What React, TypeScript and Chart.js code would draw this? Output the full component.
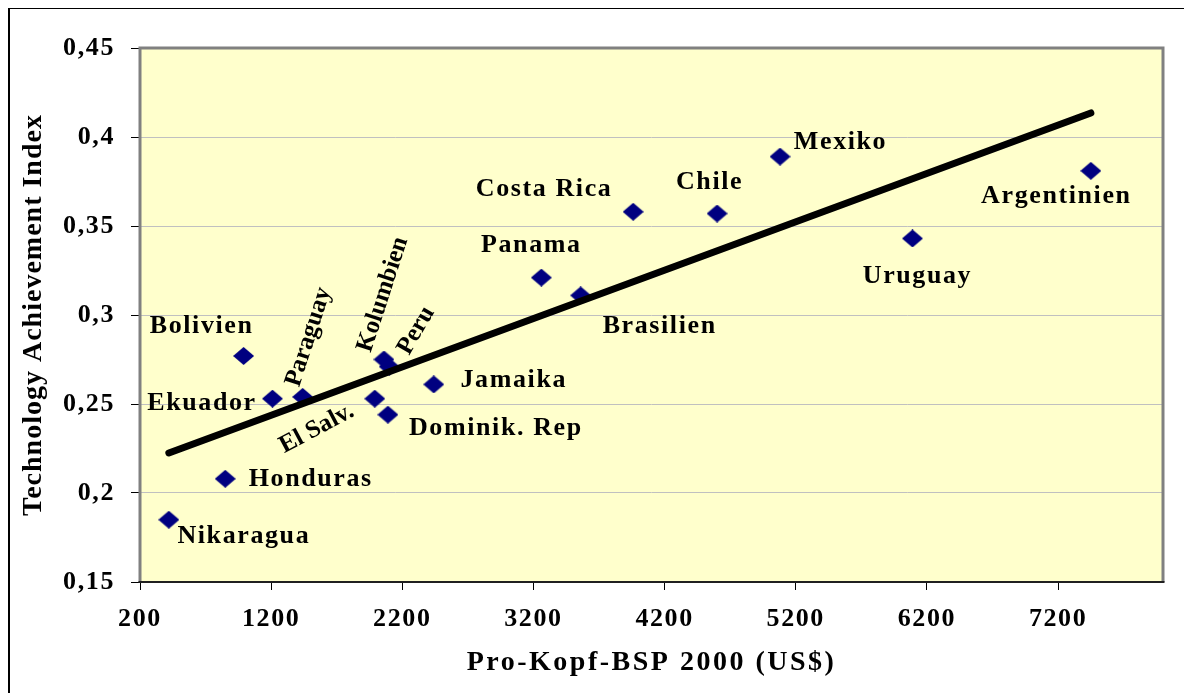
import React, { useEffect, useRef } from "react";
import { Chart, registerables } from "chart.js";

Chart.register(...registerables);

// ---------- data ----------
const COUNTRIES = [
  "Nikaragua", "Honduras", "Bolivien", "Ekuador", "Paraguay", "El Salv.",
  "Kolumbien", "Peru", "Dominik. Rep", "Jamaika", "Panama", "Brasilien",
  "Costa Rica", "Chile", "Mexiko", "Uruguay", "Argentinien",
];
const GDP = [420, 850, 990, 1210, 1440, 1990, 2060, 2100, 2090, 2440, 3260, 3560, 3960, 4600, 5080, 6090, 7450];
const TAI = [0.185, 0.208, 0.277, 0.253, 0.254, 0.253, 0.275, 0.271, 0.244, 0.261, 0.321, 0.311, 0.358, 0.357, 0.389, 0.343, 0.381];
const TREND_X = [420, 7450];
const TREND_Y = [0.2225, 0.4135];
const X_TICKS = [200, 1200, 2200, 3200, 4200, 5200, 6200, 7200];
const Y_TICKS = [0.15, 0.2, 0.25, 0.3, 0.35, 0.4, 0.45];
const X_TITLE = "Pro-Kopf-BSP 2000 (US$)";
const Y_TITLE = "Technology Achievement Index";

// ---------- label placement (offset of text centre from point in px, rotation deg) ----------
const LABEL_LAYOUT: [number, number, number][] = [
  [75, 17, 0],     // Nikaragua
  [85.5, 1, 0],    // Honduras
  [-42, -30, 0],   // Bolivien
  [-70.5, 5, 0],   // Ekuador
  [6, -60, -72],   // Paraguay
  [-58, 30, -28],  // El Salv.
  [-1, -65, -72],  // Kolumbien
  [27, -36, -60],  // Peru
  [108, 14, 0],    // Dominik. Rep
  [80, -4, 0],     // Jamaika
  [-10, -32, 0],   // Panama
  [79, 31, 0],     // Brasilien
  [-89, -22, 0],   // Costa Rica
  [-7.5, -31, 0],  // Chile
  [60.5, -14, 0],  // Mexiko
  [5, 38, 0],      // Uruguay
  [-34.5, 25, 0],  // Argentinien
];

const FONT = '"Liberation Serif", "Times New Roman", serif';

function makeDiamond(): HTMLCanvasElement {
  const c = document.createElement("canvas");
  c.width = 21;
  c.height = 18;
  const g = c.getContext("2d")!;
  g.fillStyle = "#000080";
  g.beginPath();
  g.moveTo(0, 9);
  g.lineTo(10.5, 0);
  g.lineTo(21, 9);
  g.lineTo(10.5, 18);
  g.closePath();
  g.fill();
  return c;
}

export default function App() {
  const ref = useRef<HTMLCanvasElement | null>(null);

  useEffect(() => {
    if (!ref.current) return;
    const diamond = makeDiamond();

    const decor = {
      id: "decor",
      beforeDraw(chart: any) {
        const { ctx, chartArea } = chart;
        const { left, top, right, bottom } = chartArea;
        ctx.save();
        ctx.fillStyle = "#FFFFCC";
        ctx.fillRect(left, top, right - left, bottom - top);
        ctx.restore();
        (ctx as any).letterSpacing = "1.6px";
      },
      afterDatasetsDraw(chart: any) {
        const { ctx } = chart;
        const xs = chart.scales.x;
        const ys = chart.scales.y;
        ctx.save();
        ctx.fillStyle = "#000";
        ctx.textAlign = "center";
        ctx.textBaseline = "middle";
        COUNTRIES.forEach((name, i) => {
          const [dx, dy, rot] = LABEL_LAYOUT[i];
          const px = xs.getPixelForValue(GDP[i]) + dx;
          const py = ys.getPixelForValue(TAI[i]) + dy;
          ctx.save();
          ctx.translate(px, py);
          if (rot !== 0) {
            ctx.rotate((rot * Math.PI) / 180);
            ctx.font = `bold 25px ${FONT}`;
            (ctx as any).letterSpacing = "0px";
          } else {
            ctx.font = `bold 26px ${FONT}`;
            (ctx as any).letterSpacing = "1.6px";
          }
          ctx.fillText(name, 0, 0);
          ctx.restore();
        });
        ctx.restore();
      },
      afterDraw(chart: any) {
        const { ctx, chartArea } = chart;
        const { left, top, right, bottom } = chartArea;
        ctx.save();
        ctx.strokeStyle = "#808080";
        ctx.lineWidth = 3;
        ctx.beginPath();
        ctx.moveTo(left, bottom);
        ctx.lineTo(left, top);
        ctx.lineTo(right, top);
        ctx.lineTo(right, bottom);
        ctx.stroke();
        ctx.strokeStyle = "#202020";
        ctx.lineWidth = 2;
        ctx.beginPath();
        ctx.moveTo(left - 1.5, bottom);
        ctx.lineTo(right + 1.5, bottom);
        ctx.stroke();

        ctx.fillStyle = "#000";
        ctx.textAlign = "center";
        ctx.textBaseline = "middle";
        ctx.font = `bold 28px ${FONT}`;
        (ctx as any).letterSpacing = "2.5px";
        ctx.fillText(X_TITLE, (left + right) / 2, 655);

        ctx.translate(26, (top + bottom) / 2);
        ctx.rotate(-Math.PI / 2);
        (ctx as any).letterSpacing = "1px";
        ctx.fillText(Y_TITLE, 0, 0);
        ctx.restore();
      },
    };

    const chart = new Chart(ref.current, {
      type: "scatter",
      data: {
        datasets: [
          {
            type: "line",
            data: TREND_X.map((x, i) => ({ x, y: TREND_Y[i] })),
            borderColor: "#000",
            borderWidth: 7,
            borderCapStyle: "round",
            pointRadius: 0,
            fill: false,
            order: 0,
          } as any,
          {
            data: GDP.map((x, i) => ({ x, y: TAI[i] })),
            pointStyle: diamond as any,
            pointRadius: 10,
            backgroundColor: "#000080",
            borderWidth: 0,
            order: 1,
          },
        ],
      },
      options: {
        animation: false,
        responsive: false,
        maintainAspectRatio: false,
        events: [],
        layout: { padding: { left: 0, top: 40, right: 29, bottom: 0 } },
        plugins: { legend: { display: false }, tooltip: { enabled: false } },
        scales: {
          x: {
            type: "linear",
            min: 200,
            max: 8000,
            afterBuildTicks: (s: any) => {
              s.ticks = X_TICKS.map((v) => ({ value: v }));
            },
            afterFit: (s: any) => {
              s.height = 111;
            },
            border: { display: false },
            grid: {
              drawOnChartArea: false,
              drawTicks: true,
              tickLength: 8,
              tickColor: "#000",
              tickWidth: 1,
            },
            ticks: {
              padding: 14,
              maxRotation: 0,
              autoSkip: false,
              color: "#000",
              font: { family: FONT, size: 26, weight: "bold" },
              callback: (v: any) => String(v),
            },
          },
          y: {
            type: "linear",
            min: 0.15,
            max: 0.45,
            afterBuildTicks: (s: any) => {
              s.ticks = Y_TICKS.map((v) => ({ value: v }));
            },
            afterFit: (s: any) => {
              s.width = 132;
            },
            border: { display: false },
            grid: {
              color: "#c0c0c0",
              lineWidth: 1,
              drawTicks: true,
              tickLength: 9,
              tickColor: "#000",
              tickWidth: 1,
            },
            ticks: {
              padding: 16,
              autoSkip: false,
              color: "#000",
              font: { family: FONT, size: 26, weight: "bold" },
              callback: (v: any) => String(Number(v)).replace(".", ","),
            },
          },
        },
      },
      plugins: [decor],
    });

    return () => chart.destroy();
  }, []);

  return (
    <div style={{ position: "relative", width: 1184, height: 685, background: "#fff" }}>
      <canvas ref={ref} width={1184} height={685} style={{ position: "absolute", left: 0, top: 0, width: 1184, height: 685 }} />
      <div
        style={{
          position: "absolute",
          left: 0,
          top: 0,
          width: 1184,
          height: 685,
          boxSizing: "border-box",
          borderTop: "1px solid #000",
          borderLeft: "2px solid #000",
          pointerEvents: "none",
        }}
      />
    </div>
  );
}
